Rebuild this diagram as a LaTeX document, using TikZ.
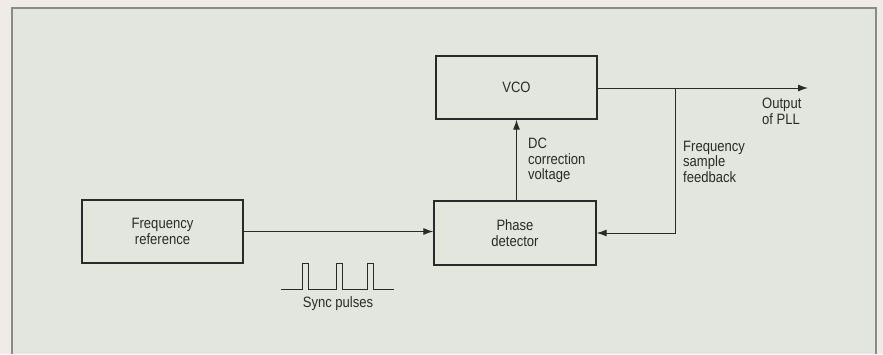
\documentclass[tikz,border=0pt]{standalone}
\usepackage{fontspec}
\setmainfont{Liberation Sans}[FakeStretch=0.87]
\usetikzlibrary{arrows.meta,positioning}
\definecolor{Paper}{HTML}{EFEBE6}
\definecolor{Panel}{HTML}{E3E5DF}
\definecolor{Frame}{HTML}{8A8A86}
\definecolor{Ink}{HTML}{2A2A28}
\tikzset{
  block/.style={draw=Ink,fill=Panel,line width=1.3pt,minimum width=161pt,minimum height=63pt,align=center,inner sep=2pt,text=Ink,font=\fontsize{15}{15.5}\selectfont},
  note/.style={align=left,inner sep=0pt,text=Ink,font=\fontsize{15}{15.5}\selectfont},
  flow/.style={-{Latex[length=10pt,width=7pt]},draw=Ink,line width=1pt},
  wire/.style={draw=Ink,line width=1pt}
}
\begin{document}
\begin{tikzpicture}[x=1pt,y=-1pt]
      \useasboundingbox (0,0) rectangle (883,354);
      \fill[Paper] (0,0) rectangle (883,354);
      \fill[Panel] (12,8) rectangle (876,354);
      \draw[Frame,line width=1.2pt] (12,354) -- (12,8) -- (876,8) -- (876,354);
      \node[block] (vco) at (516.5,87.5) {VCO};
      \node[block,minimum width=162pt,minimum height=64pt] (phase) at (515,233) {Phase\\detector};
      \node[block] (freqref) at (162.5,231.5) {Frequency\\reference};
      \coordinate (out) at (808,88);
      \coordinate (tap) at (675,88);
      \node[note,anchor=west] (dclabel) at (528,160.5) {DC\\correction\\voltage};
      \node[note,anchor=west] (fblabel) at (683,161.5) {Frequency\\sample\\feedback};
      \node[note,anchor=west] (outlabel) at (762,111.5) {Output\\of PLL};
      \node[note] (synclabel) at (338,304) {Sync pulses};
      \draw[flow] (freqref.east) -- (freqref.east -| phase.west);
      \draw[flow] (phase.north -| vco.south) -- (vco.south);
      \draw[flow] (vco.east |- out) -- (out);
      \draw[flow] (tap) -- (tap |- phase.east) -- (phase.east);
      % sync pulse train
      \draw[wire] (281,289) -- (302,289) -- (302,263) -- (308,263) -- (308,289)
        -- (336,289) -- (336,263) -- (342,263) -- (342,289)
        -- (367,289) -- (367,263) -- (373,263) -- (373,289) -- (394,289);
    \end{tikzpicture}
\end{document}
